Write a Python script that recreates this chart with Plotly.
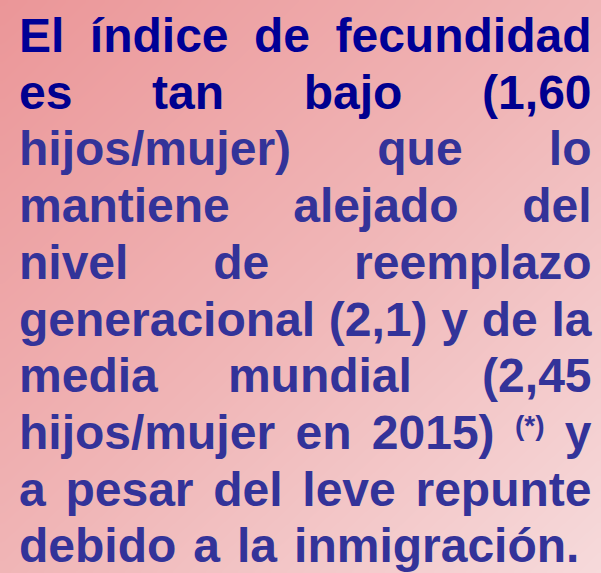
import numpy as np
import plotly.graph_objects as go

# ---- content ----
lines = [
    "El índice de fecundidad",
    "es tan bajo (1,60",
    "hijos/mujer) que lo",
    "mantiene alejado del",
    "nivel de reemplazo",
    "generacional (2,1) y de la",
    "media mundial (2,45",
    "hijos/mujer en 2015) (*) y",
    "a pesar del leve repunte",
    "debido a la inmigración.",
]
line_colors = ["#000096", "#00008f", "#333399", "#333399", "#333399",
               "#333399", "#333399", "#333399", "#333399", "#333399"]
superscript_token = "(*)"

# ---- style ----
W, H = 601, 573
FONT = "Liberation Sans, Arial, sans-serif"
FS = 48.0
SUP_FS = 28.0
LEFT, RIGHT = 19.0, 591.5
FIRST_BASE, LINE_STEP = 52.0, 56.7
SUP_RAISE = 14.0
LAST_GAP = 17.0

# Arial/Liberation Sans Bold advance widths (per 1000 em)
ADV = {" ": 278, "(": 333, ")": 333, "*": 389, ",": 278, ".": 278, "/": 278,
       "a": 556, "b": 611, "c": 556, "d": 611, "e": 556, "f": 333, "g": 611,
       "h": 611, "i": 278, "j": 278, "l": 278, "m": 889, "n": 611, "o": 611,
       "p": 611, "r": 389, "s": 556, "t": 333, "u": 611, "v": 556, "y": 556,
       "z": 500, "x": 556, "E": 667, "í": 278, "ó": 611, "q": 611}
for dch in "0123456789":
    ADV[dch] = 556


def width(word, size):
    return sum(ADV.get(c, 556) for c in word) * size / 1000.0


fig = go.Figure()

# background gradient (diagonal)
gx = np.linspace(-30, W + 30, 40)
gy = np.linspace(-30, H + 30, 40)
gz = [[(min(max(xx, 0), W) / W + min(max(yy, 0), H) / H) / 2 for xx in gx] for yy in gy]
fig.add_trace(go.Heatmap(
    x=gx, y=gy, z=gz, zmin=0, zmax=1, zsmooth="best", showscale=False,
    hoverinfo="skip",
    colorscale=[[0.0, "#EB9698"], [0.5, "#F0B5B6"], [1.0, "#F6DADB"]],
))

for i, (line, col) in enumerate(zip(lines, line_colors)):
    words = line.split(" ")
    sizes = [SUP_FS if w == superscript_token else FS for w in words]
    widths = [width(w, s) for w, s in zip(words, sizes)]
    base = FIRST_BASE + i * LINE_STEP
    if i < len(lines) - 1 and len(words) > 1:
        gap = (RIGHT - LEFT - sum(widths)) / (len(words) - 1)
    else:
        gap = LAST_GAP
    x = LEFT
    for w, s, wd in zip(words, sizes, widths):
        b = base - (SUP_RAISE if w == superscript_token else 0)
        fig.add_trace(go.Scatter(
            x=[x], y=[b - 0.25 * s], mode="text", text=[w],
            textposition="middle right",
            marker=dict(size=0),
            textfont=dict(family=FONT, size=s, color=col, weight="bold"),
            hoverinfo="skip", showlegend=False, cliponaxis=False,
        ))
        x += wd + gap

fig.update_layout(
    width=W, height=H, margin=dict(l=0, r=0, t=0, b=0),
    paper_bgcolor="#F0B5B6", plot_bgcolor="#F0B5B6",
    xaxis=dict(range=[0, W], visible=False, fixedrange=True),
    yaxis=dict(range=[H, 0], visible=False, fixedrange=True),
    showlegend=False,
)
fig.write_html(
    "out.html",
    config={"displayModeBar": False, "staticPlot": True},
    post_script="document.body.style.margin='0';document.body.style.overflow='hidden';",
)
